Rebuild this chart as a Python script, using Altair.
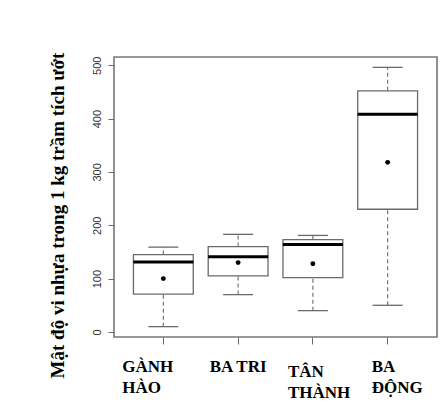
import altair as alt
import pandas as pd

# ---- data ----
sites = ["GÀNH HÀO", "BA TRI", "TÂN THÀNH", "BA ĐỘNG"]
whisker_low = [10, 70, 40, 50]
q1 = [71, 105, 102, 230]
median = [131, 141, 164, 408]
q3 = [145, 160, 173, 452]
whisker_high = [159, 183, 181, 496]
mean = [100, 130, 128, 318]
y_ticks = [0, 100, 200, 300, 400, 500]

df = pd.DataFrame({
    "site": sites, "lo": whisker_low, "q1": q1, "med": median,
    "q3": q3, "hi": whisker_high, "mean": mean,
})

GRAY = "#6a6a6a"
SERIF = "Liberation Serif"

# R-like ylim: data range extended by 4%
lo_all, hi_all = min(whisker_low), max(whisker_high)
ext = (hi_all - lo_all) * 0.04
y_scale = alt.Scale(domain=[lo_all - ext, hi_all + ext], nice=False, zero=False)
x_scale = alt.Scale(domain=sites, paddingInner=0, paddingOuter=0.16)

label_expr = "datum.label == 'BA TRI' ? datum.label : split(datum.label, ' ')"

x_axis = alt.Axis(
    title=None, domain=False, grid=False, tickSize=7, tickColor=GRAY,
    labelExpr=label_expr, labelFont=SERIF, labelFontWeight="bold",
    labelFontSize=17, labelColor="black", labelLineHeight=21,
    labelAngle=0, labelBaseline="top",
    labelAlign={"condition": {"test": "datum.value == 'BA TRI'", "value": "center"}, "value": "left"},
    labelOffset={"condition": [
        {"test": "datum.value == 'GÀNH HÀO'", "value": -41},
        {"test": "datum.value == 'TÂN THÀNH'", "value": -25},
        {"test": "datum.value == 'BA ĐỘNG'", "value": -16},
    ], "value": 0},
    labelPadding={"condition": {"test": "datum.value == 'TÂN THÀNH'", "value": 19}, "value": 14},
)

y_axis = alt.Axis(
    title="Mật độ vi nhựa trong 1 kg trầm tích ướt",
    values=y_ticks, domain=False, grid=False, tickSize=6, tickColor=GRAY,
    labelAngle=-90, labelFont="Liberation Sans", labelFontSize=11,
    labelColor="#333333", labelPadding=6, labelAlign="center", labelBaseline="bottom",
    titleFont=SERIF, titleFontWeight="bold", titleFontSize=19, titleColor="black",
    titleX=-51, titleY=158, titleAlign="center", titleBaseline="alphabetic",
)

base = alt.Chart(df)
x_enc = alt.X("site:N", scale=x_scale, axis=x_axis, sort=sites)

lower = base.mark_rule(color=GRAY, strokeDash=[4, 3], strokeWidth=1.1).encode(
    x=x_enc, y=alt.Y("lo:Q", scale=y_scale, axis=y_axis), y2="q1:Q")
upper = base.mark_rule(color=GRAY, strokeDash=[4, 3], strokeWidth=1.1).encode(
    x=x_enc, y=alt.Y("q3:Q", scale=y_scale, axis=y_axis), y2="hi:Q")
cap_lo = base.mark_tick(color=GRAY, size=30, thickness=1.3, orient="horizontal", opacity=1).encode(
    x=x_enc, y=alt.Y("lo:Q", scale=y_scale, axis=y_axis))
cap_hi = base.mark_tick(color=GRAY, size=30, thickness=1.3, orient="horizontal", opacity=1).encode(
    x=x_enc, y=alt.Y("hi:Q", scale=y_scale, axis=y_axis))
box = base.mark_bar(fill="white", stroke=GRAY, strokeWidth=1.3, width={"band": 0.8}).encode(
    x=x_enc, y=alt.Y("q1:Q", scale=y_scale, axis=y_axis), y2="q3:Q")
med = base.mark_tick(color="black", size=60, thickness=3, orient="horizontal", opacity=1).encode(
    x=x_enc, y=alt.Y("med:Q", scale=y_scale, axis=y_axis))
mn = base.mark_point(color="black", filled=True, size=24, opacity=1, shape="circle").encode(
    x=x_enc, y=alt.Y("mean:Q", scale=y_scale, axis=y_axis))

chart = alt.layer(lower, upper, cap_lo, cap_hi, box, med, mn).properties(
    width=323, height=280,
    autosize=alt.AutoSizeParams(type="none"),
    padding={"left": 106, "top": 49, "right": 3, "bottom": 66},
    background="white",
).configure_view(stroke="#777777", strokeWidth=1.6)

chart.save("out.html", embed_options={"renderer": "svg", "actions": False})
